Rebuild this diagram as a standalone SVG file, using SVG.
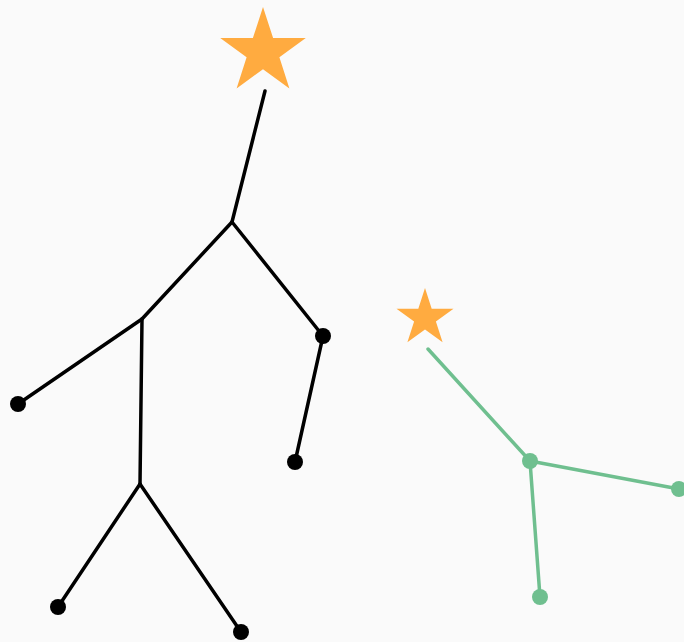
<svg xmlns="http://www.w3.org/2000/svg" width="684" height="642" viewBox="0 0 684 642">
<style>
.k{stroke:#000;stroke-width:3.5;fill:none;stroke-linecap:round}
.g{stroke:#6fbf8f;stroke-width:3.5;fill:none;stroke-linecap:round}
.kd{fill:#000}
.gd{fill:#6fbf8f}
.star{fill:#ffab40}
</style>
<rect width="684" height="642" fill="#fafafa"/>
<g id="connectors">
<line class="k" x1="265" y1="91" x2="232" y2="222"/>
<line class="k" x1="232" y1="222" x2="142" y2="319"/>
<line class="k" x1="232" y1="222" x2="323" y2="336"/>
<line class="k" x1="142" y1="319" x2="18" y2="404"/>
<line class="k" x1="142" y1="319" x2="140" y2="484"/>
<line class="k" x1="140" y1="484" x2="58" y2="607"/>
<line class="k" x1="140" y1="484" x2="241" y2="632"/>
<line class="k" x1="323" y1="336" x2="295" y2="462"/>
<line class="g" x1="428" y1="349" x2="530" y2="461"/>
<line class="g" x1="530" y1="461" x2="679" y2="489"/>
<line class="g" x1="530" y1="461" x2="540" y2="597"/>
</g>
<g id="star1"><polygon class="star" points="263,7 273.1,38.1 305.8,38.1 279.4,57.3 289.4,88.4 263,69.2 236.6,88.4 246.6,57.3 220.2,38.1 252.9,38.1"/></g>
<g id="star2"><polygon class="star" points="425,288 431.7,308.7 453.5,308.7 435.9,321.5 442.6,342.3 425,329.5 407.4,342.3 414.1,321.5 396.5,308.7 418.3,308.7"/></g>
<g id="n1"><circle class="kd" cx="323" cy="336" r="8"/></g>
<g id="n2"><circle class="kd" cx="18" cy="404" r="8"/></g>
<g id="n3"><circle class="kd" cx="295" cy="462" r="8"/></g>
<g id="n4"><circle class="kd" cx="58" cy="607" r="8"/></g>
<g id="n5"><circle class="kd" cx="241" cy="632" r="8"/></g>
<g id="g1"><circle class="gd" cx="530" cy="461" r="8"/></g>
<g id="g2"><circle class="gd" cx="679" cy="489" r="8"/></g>
<g id="g3"><circle class="gd" cx="540" cy="597" r="8"/></g>
</svg>
